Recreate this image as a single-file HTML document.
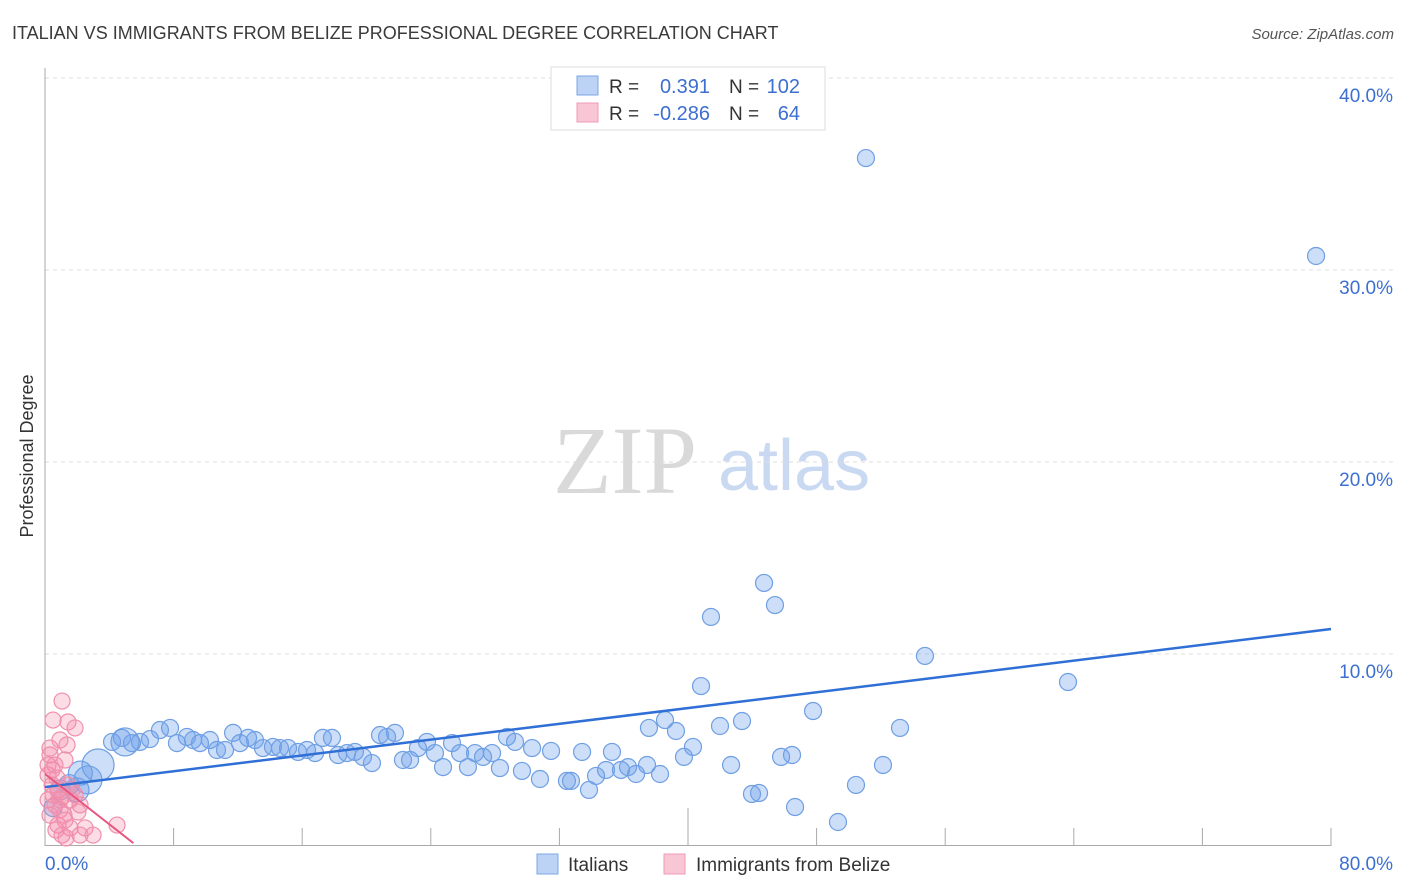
<!DOCTYPE html>
<html><head><meta charset="utf-8">
<style>
body{margin:0;background:#fff;font-family:"Liberation Sans",sans-serif;}
#wrap{position:relative;width:1406px;height:892px;overflow:hidden;}
</style></head>
<body>
<div id="wrap">
<svg id="chart" width="1406" height="892" xmlns="http://www.w3.org/2000/svg">
  <text x="12" y="39" font-size="18" fill="#3a3a3a">ITALIAN VS IMMIGRANTS FROM BELIZE PROFESSIONAL DEGREE CORRELATION CHART</text>
  <text x="1394" y="39" font-size="15" font-style="italic" fill="#555" text-anchor="end">Source: ZipAtlas.com</text>
  <g>
    <text x="553" y="493" font-family="Liberation Serif,serif" font-size="96" fill="#d9d9d9">ZIP</text>
    <text x="718" y="490" font-size="72" fill="#c9d9f2">atlas</text>
  </g>
  <g id="grid"></g>
  <g id="axes"></g>
  <g id="blue"></g>
  <g id="pink"></g>
  <g id="lines"></g>
  <text transform="translate(33,456) rotate(-90)" font-size="18" fill="#333" text-anchor="middle">Professional Degree</text>
  <g>
    <rect x="551" y="67" width="274" height="63" fill="#fff" stroke="#ddd"/>
    <rect x="577" y="76" width="21" height="19" fill="#bcd3f5" stroke="#7ea6e6"/>
    <rect x="577" y="103" width="21" height="19" fill="#f9c6d5" stroke="#f09ab4"/>
    <text x="609" y="93" font-size="19" fill="#333">R =</text>
    <text x="710" y="93" font-size="20" fill="#3d6fd0" text-anchor="end">0.391</text>
    <text x="729" y="93" font-size="19" fill="#333">N =</text>
    <text x="800" y="93" font-size="20" fill="#3d6fd0" text-anchor="end">102</text>
    <text x="609" y="120" font-size="19" fill="#333">R =</text>
    <text x="710" y="120" font-size="20" fill="#3d6fd0" text-anchor="end">-0.286</text>
    <text x="729" y="120" font-size="19" fill="#333">N =</text>
    <text x="800" y="120" font-size="20" fill="#3d6fd0" text-anchor="end">64</text>
  </g>
  <g>
    <rect x="537" y="854" width="21" height="20" fill="#bcd3f5" stroke="#7ea6e6"/>
    <text x="568" y="871" font-size="19" fill="#333">Italians</text>
    <rect x="664" y="854" width="21" height="20" fill="#f9c6d5" stroke="#f09ab4"/>
    <text x="696" y="871" font-size="19" fill="#333">Immigrants from Belize</text>
  </g>
</svg>
</div>
<script>
const yTicks = [10, 20, 30, 40];
const yTickLabels = ["10.0%", "20.0%", "30.0%", "40.0%"];
const xTicks = [8, 16, 24, 32, 40, 48, 56, 64, 72, 80];
const xEndLabels = ["0.0%", "80.0%"];
const blueX = [51.07,79.07,44.73,45.41,41.43,54.74,63.64,40.81,47.78,53.19,43.36,41.99,38.57,37.57,39.25,40.31,35.27,33.41,31.48,45.79,46.47,39.75,42.68,52.13,37.45,36.27,34.90,35.83,38.26,36.77,34.28,32.47,32.72,30.79,29.67,28.30,50.45,43.98,44.42,33.84,46.66,49.33,
4.17,4.79,5.41,5.91,6.53,7.15,7.78,8.21,8.83,9.21,9.64,10.26,10.70,11.20,11.70,12.13,12.63,13.06,13.56,14.18,14.62,15.12,15.74,16.30,16.80,17.29,17.85,18.23,18.79,19.28,19.78,20.34,20.84,21.28,21.77,22.27,22.71,23.20,23.76,24.26,24.76,25.32,25.82,26.31,26.75,27.25,27.81,28.74,29.24,30.30,
3.30,2.67,1.99,0.93,4.98,0.5,2.2,1.5];
const blueY = [35.83,30.73,13.70,12.55,11.93,9.90,8.54,8.33,7.03,6.15,6.51,6.25,6.56,6.15,5.99,5.16,4.90,4.90,4.95,4.64,4.74,4.64,4.22,4.22,4.22,4.11,3.96,3.96,3.75,3.75,3.65,3.39,3.39,3.49,3.91,4.06,3.18,2.71,2.76,2.92,2.03,1.25,
5.42,5.63,5.36,5.42,5.57,6.04,6.15,5.36,5.68,5.52,5.36,5.52,5.00,5.00,5.89,5.36,5.63,5.52,5.10,5.16,5.10,5.10,4.90,5.00,4.84,5.63,5.63,4.74,4.84,4.90,4.64,4.32,5.78,5.68,5.89,4.48,4.48,5.10,5.42,4.84,4.11,5.36,4.84,4.11,4.84,4.64,4.84,5.68,5.42,5.10,
4.22,3.44,2.92,2.92,5.42,2.0,3.8,3.2];
const blueSize = [];
const pinkX = [1.06,0.50,1.43,1.87,1.37,0.31,1.24,0.62,0.19,0.44,0.81,1.06,1.56,1.87,2.18,0.62,0.93,0.31,1.24,0.81,1.56,2.49,1.06,2.18,2.99,4.48,0.19,0.44,0.75,1.43,1.68,0.50,0.93,1.18,0.19,2.05,0.68,1.31,0.31,0.93];
const pinkY = [7.55,6.56,6.46,6.15,5.26,4.74,4.48,4.22,3.70,3.18,2.92,2.55,2.40,2.66,2.14,2.14,1.88,1.61,1.35,1.09,0.94,0.94,0.57,0.57,0.57,1.09,4.22,3.96,3.54,3.18,2.92,2.66,2.40,1.61,2.40,1.77,0.83,0.42,5.10,5.52];
const blueTrend = [3.07, 11.3];
const pinkTrend = [3.75, 0.15];
const pinkTrendEnd = 5.5;

const X0=45, X1=1331, Y0=846, PXPER=19.2;
const sx = v => X0 + v*(X1-X0)/80;
const sy = v => Y0 - v*PXPER;
const NS="http://www.w3.org/2000/svg";
function mk(tag, attrs, parent){const e=document.createElementNS(NS,tag);for(const k in attrs)e.setAttribute(k,attrs[k]);parent.appendChild(e);return e;}
const grid=document.getElementById('grid'), axes=document.getElementById('axes');
yTicks.forEach((t,i)=>{
  const g=mk('line',{x1:45,x2:1393,y1:sy(t),y2:sy(t),stroke:'#ddd','stroke-dasharray':'4,4'},grid);
  
  
  const tx=mk('text',{x:1393,y:sy(t)+24,'font-size':19,fill:'#3d6fd0','text-anchor':'end'},axes);
  tx.textContent=yTickLabels[i];
  
  
});
const ya=mk('line',{x1:45,x2:45,y1:68,y2:846,stroke:'#aaa'},axes);


const xa=mk('line',{x1:45,x2:1331,y1:845.5,y2:845.5,stroke:'#aaa'},axes);


xTicks.forEach(t=>{
  const l=mk('line',{x1:sx(t),x2:sx(t),y1:(t===40?808:828),y2:846,stroke:'#aaa'},axes);
  
  
});
const xl0=mk('text',{x:45,y:870,'font-size':19,fill:'#3d6fd0'},axes);
xl0.textContent=xEndLabels[0];


const xl1=mk('text',{x:1393,y:870,'font-size':19,fill:'#3d6fd0','text-anchor':'end'},axes);
xl1.textContent=xEndLabels[1];



const bigR=[16,14,12,10,14,9,12,10];
const bg=document.getElementById('blue');
blueX.forEach((x,i)=>{
  const r = i>=blueX.length-8 ? bigR[i-(blueX.length-8)] : 8.5;
  const c=mk('circle',{cx:sx(x),cy:sy(blueY[i]),r:r,fill:'rgba(110,160,235,0.35)',stroke:'#6f9fe3','stroke-width':1.2},bg);
  
  
});
const pg=document.getElementById('pink');
pinkX.forEach((x,i)=>{
  const c=mk('circle',{cx:sx(x),cy:sy(pinkY[i]),r:8,fill:'rgba(245,140,170,0.3)',stroke:'#f08fad','stroke-width':1.2},pg);
  
  
});
const lg=document.getElementById('lines');
const bl=mk('line',{x1:sx(0),y1:sy(blueTrend[0]),x2:sx(80),y2:sy(blueTrend[1]),stroke:'#2f6fd6','stroke-width':2.5},lg);


const pl=mk('line',{x1:sx(0),y1:sy(pinkTrend[0]),x2:sx(pinkTrendEnd),y2:sy(pinkTrend[1]),stroke:'#e8557f','stroke-width':2},lg);


</script>
</body></html>
